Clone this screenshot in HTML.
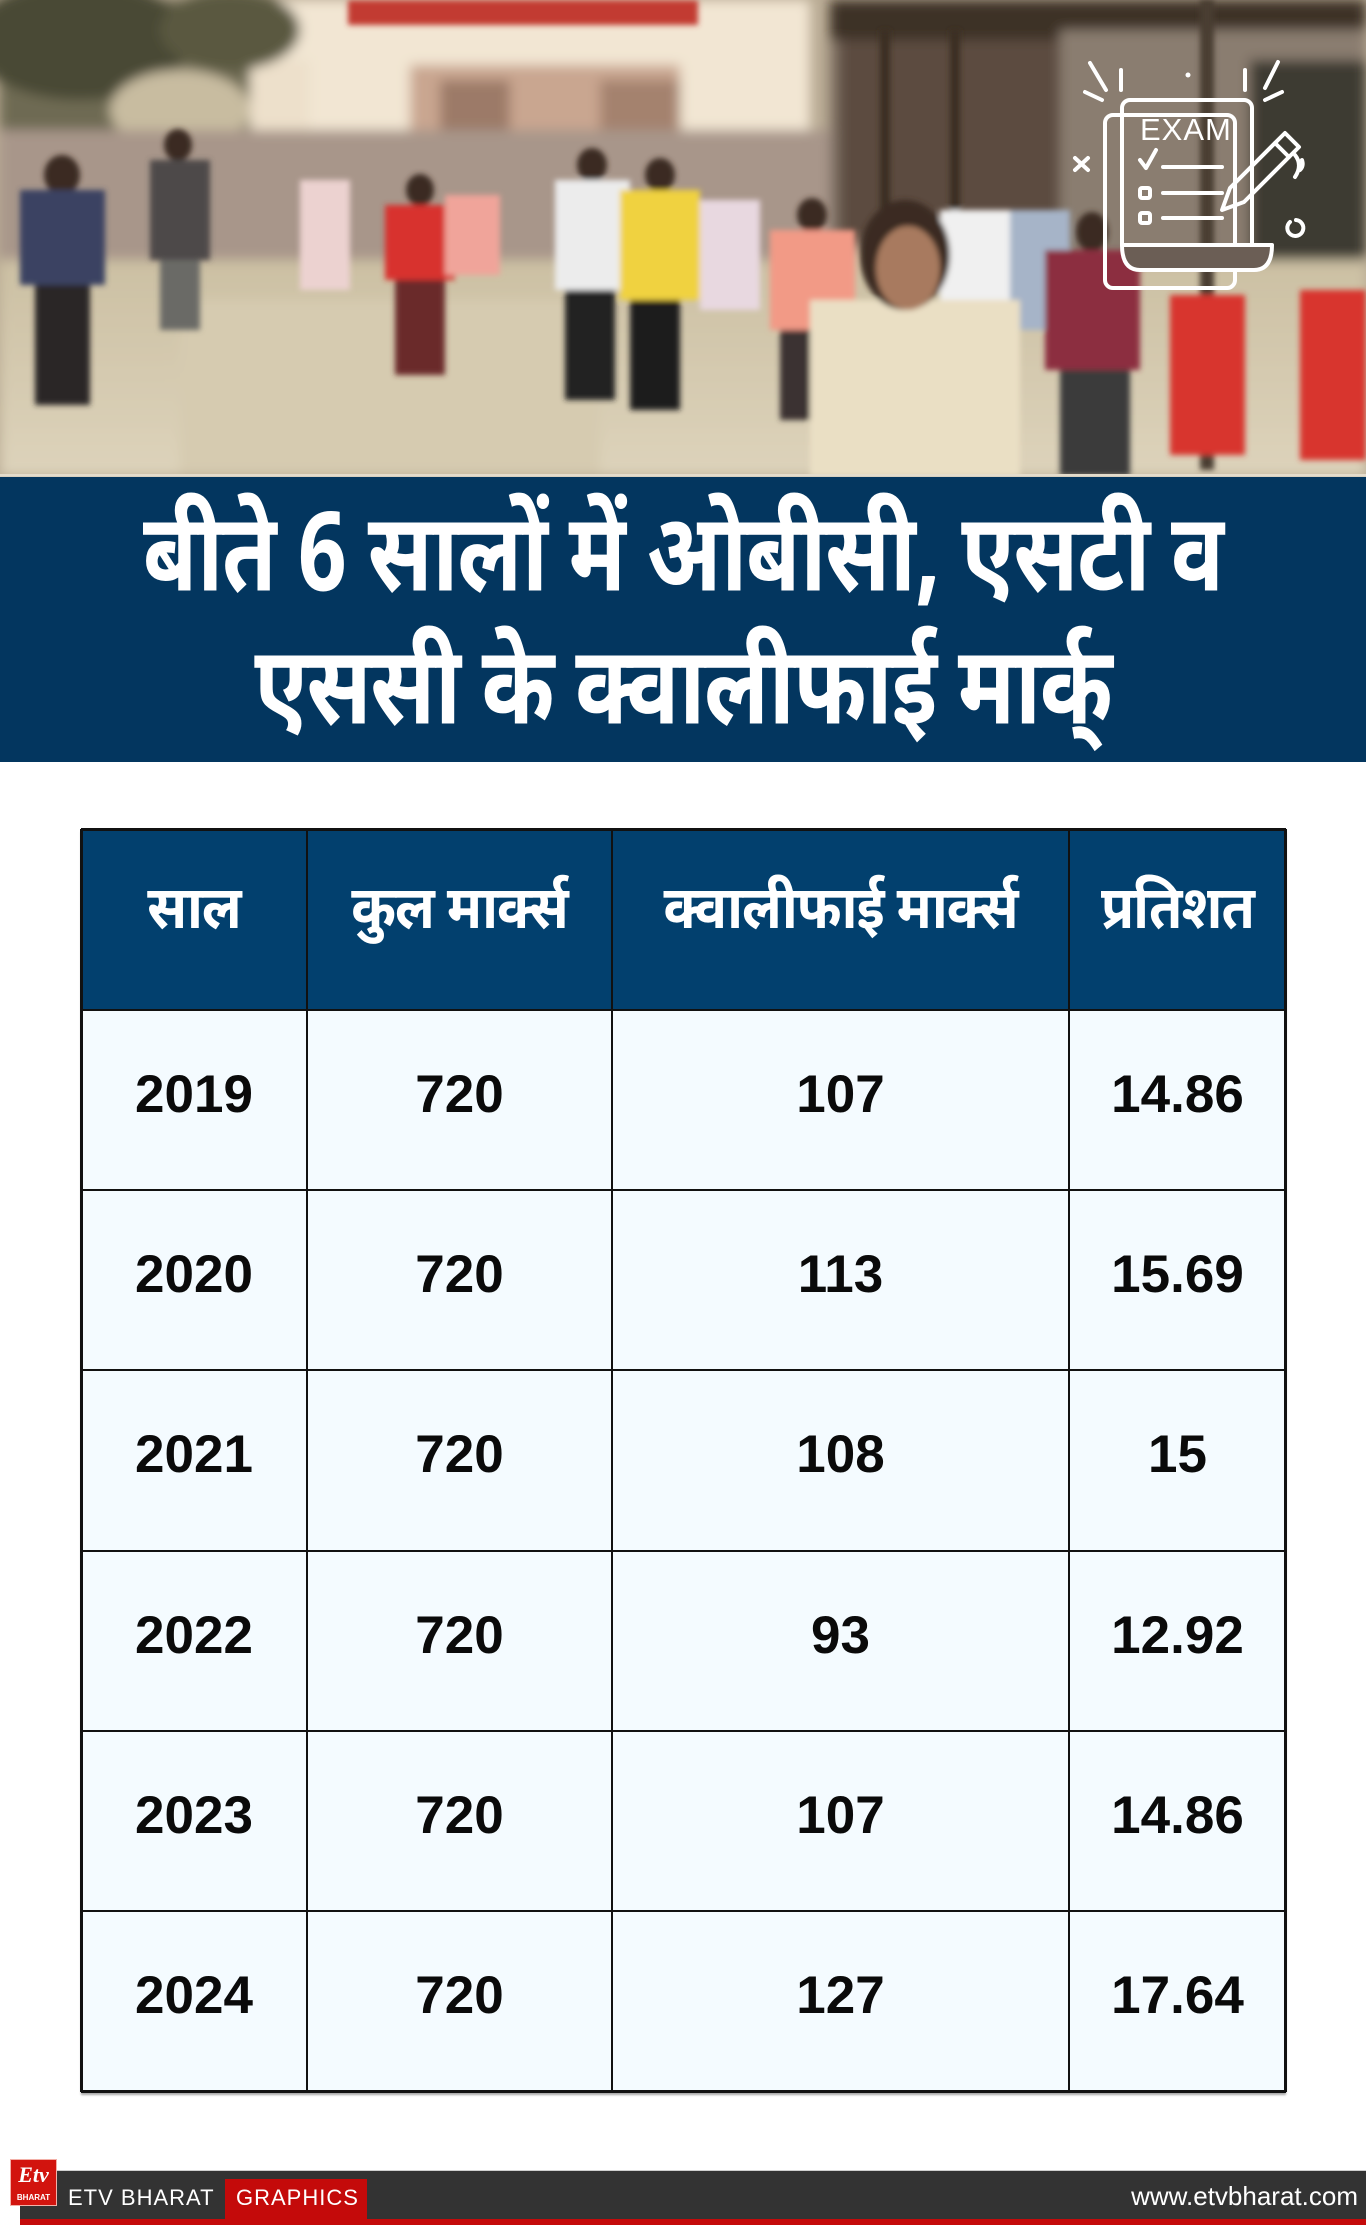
<!DOCTYPE html>
<html>
<head>
<meta charset="utf-8">
<style>
  html,body{margin:0;padding:0;}
  body{width:1366px;height:2228px;position:relative;background:#ffffff;overflow:hidden;
       font-family:"Liberation Sans", "Noto Sans Devanagari", "Lohit Devanagari", "FreeSans", "Noto Sans CJK SC", sans-serif;}
  .abs{position:absolute;}
  #photo{left:0;top:0;width:1366px;height:476px;}
  #band{left:0;top:476px;width:1366px;height:286px;background:#03365f;border-top:1px solid #d8d0c0;box-sizing:border-box;}
  .title{left:0;width:1366px;text-align:center;color:#fff;font-weight:bold;font-size:84px;white-space:nowrap;
         font-family:"Noto Sans Devanagari","Lohit Devanagari","FreeSans","Liberation Sans",sans-serif;letter-spacing:-1px;
         transform:scale(1.045,1.3);transform-origin:683px 60px;}
  .htxt{position:absolute;top:829px;height:181px;line-height:172px;text-align:center;color:#fff;font-weight:bold;font-size:54px;white-space:nowrap;
        font-family:"Noto Sans Devanagari","Lohit Devanagari","FreeSans","Liberation Sans",sans-serif;letter-spacing:-1px;}
  .htxt span{display:inline-block;transform:scaleY(1.1);}
  .hcell{position:absolute;top:829px;height:181px;background:#02406e;}
  .num{position:absolute;height:180px;line-height:170px;text-align:center;color:#0a0a0a;font-weight:bold;font-size:53px;font-family:"Liberation Sans",sans-serif;}
  .vl{position:absolute;top:829px;height:1263px;width:2px;background:#111;}
  .hl{position:absolute;left:81px;width:1205px;height:2px;background:#111;}
</style>
</head>
<body>

<!-- PHOTO -->
<svg id="photo" class="abs" width="1366" height="476" viewBox="0 0 1366 476" xmlns="http://www.w3.org/2000/svg">
  <defs>
    <filter id="bl" x="-10%" y="-10%" width="120%" height="120%"><feGaussianBlur stdDeviation="6"/></filter>
    <filter id="bl2" x="-10%" y="-10%" width="120%" height="120%"><feGaussianBlur stdDeviation="3"/></filter>
    <linearGradient id="gnd" x1="0" y1="0" x2="0" y2="1">
      <stop offset="0" stop-color="#cbbfa2"/>
      <stop offset="1" stop-color="#ddd3bb"/>
    </linearGradient>
  </defs>
  <rect x="0" y="0" width="1366" height="476" fill="#b9ab94"/>
  <g filter="url(#bl)">
    <rect x="0" y="250" width="1366" height="226" fill="url(#gnd)"/>
    <rect x="250" y="0" width="560" height="150" fill="#f2e6d3"/>
    <rect x="150" y="60" width="160" height="90" fill="#ede0cb"/>
    <rect x="410" y="65" width="270" height="75" fill="#c9a690"/>
    <rect x="440" y="80" width="70" height="60" fill="#9c7a68"/>
    <rect x="600" y="80" width="80" height="60" fill="#a4826e"/>
    <rect x="0" y="0" width="250" height="140" fill="#6e6a52"/>
    <ellipse cx="80" cy="40" rx="110" ry="60" fill="#4a4a36"/>
    <ellipse cx="230" cy="30" rx="70" ry="40" fill="#5a5840"/>
    <ellipse cx="180" cy="110" rx="70" ry="40" fill="#c8bca0"/>
    <rect x="830" y="0" width="536" height="250" fill="#7c6d60"/>
    <rect x="830" y="0" width="536" height="40" fill="#3d3027"/>
    <rect x="840" y="40" width="220" height="200" fill="#5c4c40"/>
    <rect x="1060" y="30" width="306" height="230" fill="#8a7d70"/>
    <rect x="1250" y="60" width="116" height="200" fill="#3e3a30"/>
    <rect x="0" y="130" width="830" height="130" fill="#a8968a"/>
    <rect x="180" y="300" width="420" height="176" fill="#d6cbb0"/>
  </g>
  <g filter="url(#bl2)">
    <rect x="348" y="0" width="350" height="25" fill="#c23a32"/>
    <rect x="880" y="30" width="10" height="240" fill="#3a2d22"/>
    <rect x="950" y="30" width="10" height="250" fill="#3a2d22"/>
    <rect x="1200" y="0" width="14" height="470" fill="#4a3c30"/>
    <ellipse cx="62" cy="175" rx="18" ry="20" fill="#3a2a22"/>
    <rect x="20" y="190" width="85" height="95" fill="#3b4262"/>
    <rect x="35" y="285" width="55" height="120" fill="#2c2626"/>
    <ellipse cx="178" cy="145" rx="14" ry="16" fill="#3a2a22"/>
    <rect x="150" y="160" width="60" height="100" fill="#4e4a4a"/>
    <rect x="160" y="260" width="40" height="70" fill="#6a6a66"/>
    <rect x="300" y="180" width="50" height="110" fill="#ecd2d0"/>
    <ellipse cx="420" cy="190" rx="14" ry="16" fill="#3a2a22"/>
    <rect x="385" y="205" width="70" height="75" fill="#d8322e"/>
    <rect x="395" y="280" width="50" height="95" fill="#6a2a2a"/>
    <rect x="445" y="195" width="55" height="80" fill="#f0a49a"/>
    <ellipse cx="592" cy="165" rx="15" ry="17" fill="#3a2a22"/>
    <rect x="555" y="180" width="75" height="110" fill="#ececec"/>
    <rect x="565" y="290" width="50" height="110" fill="#222"/>
    <ellipse cx="660" cy="175" rx="15" ry="17" fill="#3a2a22"/>
    <rect x="620" y="190" width="80" height="110" fill="#f0d240"/>
    <rect x="630" y="300" width="50" height="110" fill="#1e1e1e"/>
    <rect x="700" y="200" width="60" height="110" fill="#e8d8e0"/>
    <ellipse cx="812" cy="215" rx="15" ry="17" fill="#3a2a22"/>
    <rect x="770" y="230" width="85" height="100" fill="#f29a86"/>
    <rect x="780" y="330" width="60" height="90" fill="#3a3230"/>
    <rect x="940" y="210" width="70" height="110" fill="#f0f0f0"/>
    <rect x="1010" y="210" width="60" height="120" fill="#a6b4c8"/>
    <ellipse cx="1092" cy="232" rx="16" ry="20" fill="#3a2a22"/>
    <rect x="1045" y="250" width="95" height="120" fill="#8c2f40"/>
    <rect x="1060" y="370" width="70" height="106" fill="#3a3a3a"/>
    <rect x="1170" y="295" width="75" height="160" fill="#d8352e"/>
    <rect x="1300" y="290" width="66" height="170" fill="#d8352e"/>
    <rect x="810" y="300" width="210" height="176" fill="#eadfc4"/>
    <ellipse cx="905" cy="255" rx="45" ry="55" fill="#3a2a20"/>
    <ellipse cx="908" cy="268" rx="32" ry="42" fill="#a87a5e"/>
  </g>
  <!-- EXAM icon -->
  <g fill="none" stroke="#ffffff" stroke-width="4" stroke-linecap="round" stroke-linejoin="round">
    <rect x="1105" y="115" width="130" height="173" rx="8"/>
    <path d="M1122 245 V108 a8 8 0 0 1 8 -8 H1244 a8 8 0 0 1 8 8 V245"/>
    <path d="M1122 245 q0 25 18 25 H1254 q18 0 18 -25 Z" fill="#6b5e55" />
    <path d="M1140 160 l6 8 l10 -18"/>
    <line x1="1163" y1="167" x2="1222" y2="167"/>
    <rect x="1140" y="188" width="10" height="10" rx="2"/>
    <line x1="1163" y1="193" x2="1222" y2="193"/>
    <rect x="1140" y="213" width="10" height="10" rx="2"/>
    <line x1="1163" y1="218" x2="1222" y2="218"/>
    <path d="M1222 210 l8 -22 l55 -55 l14 14 l-55 55 z"/>
    <line x1="1275" y1="143" x2="1289" y2="157"/>
    <line x1="1090" y1="63" x2="1106" y2="90"/>
    <line x1="1085" y1="92" x2="1102" y2="100"/>
    <line x1="1121" y1="70" x2="1121" y2="90"/>
    <line x1="1245" y1="70" x2="1245" y2="90"/>
    <line x1="1278" y1="62" x2="1265" y2="88"/>
    <line x1="1282" y1="92" x2="1265" y2="100"/>
    <line x1="1075" y1="158" x2="1088" y2="170"/>
    <line x1="1088" y1="158" x2="1075" y2="170"/>
    <path d="M1295 155 q8 10 0 22"/>
    <path d="M1300 170 q4 -4 2 -10"/>
    <path d="M1290 222 a8 8 0 1 0 6 -2"/>
  </g>
  <circle cx="1188" cy="75" r="2.5" fill="#fff"/>
  <text x="1140" y="140" fill="#ffffff" font-family="Liberation Sans, sans-serif" font-size="31" letter-spacing="1">EXAM</text>
  <rect x="0" y="474" width="1366" height="2" fill="#e4dccc"/>
</svg>

<!-- TITLE BAND -->
<div id="band" class="abs"></div>
<div class="abs title" style="top:506px;height:120px;line-height:120px;">बीते 6 सालों में ओबीसी, एसटी व</div>
<div class="abs title" style="top:639px;height:120px;line-height:120px;">एससी के क्वालीफाई मार्क्</div>

<!-- TABLE -->
<div class="abs" style="left:81px;top:829px;width:1205px;height:1263px;background:#f4fbff;box-shadow:0 3px 2px rgba(0,0,0,0.35);"></div>
<div class="hcell" style="left:81px;width:1205px;"></div>

<div class="htxt" style="left:81px;width:226px;"><span>साल</span></div>
<div class="htxt" style="left:307px;width:305px;"><span>कुल मार्क्स</span></div>
<div class="htxt" style="left:612px;width:457px;"><span>क्वालीफाई मार्क्स</span></div>
<div class="htxt" style="left:1069px;width:217px;"><span>प्रतिशत</span></div>

<div class="vl" style="left:80px;width:3px;"></div>
<div class="vl" style="left:306px;"></div>
<div class="vl" style="left:611px;"></div>
<div class="vl" style="left:1068px;"></div>
<div class="vl" style="left:1284px;width:3px;"></div>
<div class="hl" style="top:828px;height:3px;"></div>
<div class="hl" style="top:1009px;"></div>
<div class="hl" style="top:1189px;"></div>
<div class="hl" style="top:1369px;"></div>
<div class="hl" style="top:1550px;"></div>
<div class="hl" style="top:1730px;"></div>
<div class="hl" style="top:1910px;"></div>
<div class="hl" style="top:2090px;height:3px;"></div>

<div class="num" style="left:81px;width:226px;top:1010px;">2019</div>
<div class="num" style="left:307px;width:305px;top:1010px;">720</div>
<div class="num" style="left:612px;width:457px;top:1010px;">107</div>
<div class="num" style="left:1069px;width:217px;top:1010px;">14.86</div>

<div class="num" style="left:81px;width:226px;top:1190px;">2020</div>
<div class="num" style="left:307px;width:305px;top:1190px;">720</div>
<div class="num" style="left:612px;width:457px;top:1190px;">113</div>
<div class="num" style="left:1069px;width:217px;top:1190px;">15.69</div>

<div class="num" style="left:81px;width:226px;top:1370px;">2021</div>
<div class="num" style="left:307px;width:305px;top:1370px;">720</div>
<div class="num" style="left:612px;width:457px;top:1370px;">108</div>
<div class="num" style="left:1069px;width:217px;top:1370px;">15</div>

<div class="num" style="left:81px;width:226px;top:1551px;">2022</div>
<div class="num" style="left:307px;width:305px;top:1551px;">720</div>
<div class="num" style="left:612px;width:457px;top:1551px;">93</div>
<div class="num" style="left:1069px;width:217px;top:1551px;">12.92</div>

<div class="num" style="left:81px;width:226px;top:1731px;">2023</div>
<div class="num" style="left:307px;width:305px;top:1731px;">720</div>
<div class="num" style="left:612px;width:457px;top:1731px;">107</div>
<div class="num" style="left:1069px;width:217px;top:1731px;">14.86</div>

<div class="num" style="left:81px;width:226px;top:1911px;">2024</div>
<div class="num" style="left:307px;width:305px;top:1911px;">720</div>
<div class="num" style="left:612px;width:457px;top:1911px;">127</div>
<div class="num" style="left:1069px;width:217px;top:1911px;">17.64</div>

<!-- FOOTER -->
<div class="abs" style="left:20px;top:2170px;width:1346px;height:1px;background:#cfcfcf;"></div>
<div class="abs" style="left:20px;top:2171px;width:1346px;height:48px;background:#333333;"></div>
<div class="abs" style="left:20px;top:2219px;width:1346px;height:6px;background:#c40a0a;"></div>
<div class="abs" style="left:225px;top:2179px;width:142px;height:40px;background:#c40a0a;"></div>
<div class="abs" style="left:68px;top:2183px;height:30px;line-height:30px;color:#fff;font-size:22px;letter-spacing:1px;font-family:'Liberation Sans',sans-serif;">ETV BHARAT</div>
<div class="abs" style="left:236px;top:2183px;height:30px;line-height:30px;color:#fff;font-size:22px;letter-spacing:1px;font-family:'Liberation Sans',sans-serif;">GRAPHICS</div>
<div class="abs" style="right:8px;top:2181px;height:30px;line-height:30px;color:#fff;font-size:26px;font-family:'Liberation Sans',sans-serif;">www.etvbharat.com</div>
<div class="abs" style="left:10px;top:2159px;width:47px;height:47px;background:#d2140e;border:1px solid #f3b0a8;box-sizing:border-box;"></div>
<div class="abs" style="left:12px;top:2160px;width:43px;height:30px;line-height:30px;text-align:center;color:#fff;font-size:22px;font-style:italic;font-weight:bold;font-family:'Liberation Serif',serif;">Etv</div>
<div class="abs" style="left:12px;top:2193px;width:43px;height:10px;line-height:10px;text-align:center;color:#fff;font-size:8px;font-weight:bold;font-family:'Liberation Sans',sans-serif;">BHARAT</div>

</body>
</html>
